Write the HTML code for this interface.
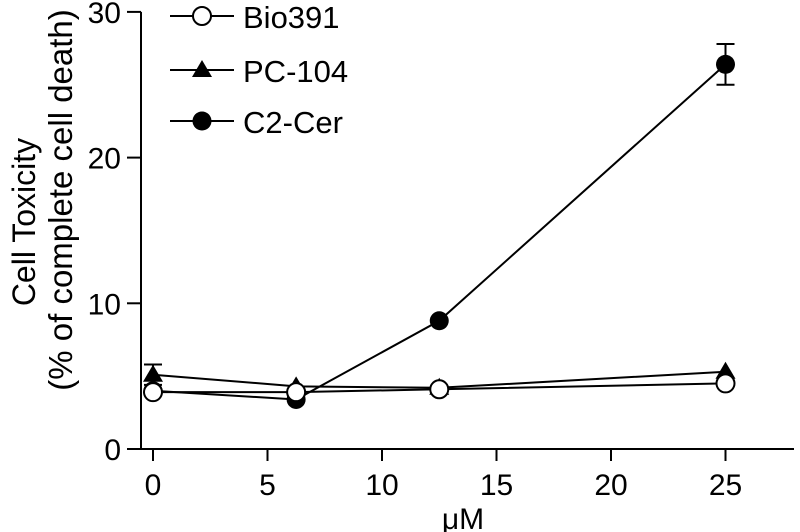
<!DOCTYPE html>
<html><head><meta charset="utf-8"><style>
html,body{margin:0;padding:0;background:#fff;}
svg{display:block;font-family:"Liberation Sans",Arial,sans-serif;}
</style></head><body>
<svg id="chart" width="800" height="532" viewBox="0 0 800 532"></svg>
<script>
const xValues = [0, 6.25, 12.5, 25];
const bio391 = [3.9, 3.9, 4.1, 4.5];
const pc104 = [5.1, 4.3, 4.2, 5.3];
const pc104Err = [0.7, 0, 0, 0];
const c2cer = [4.0, 3.4, 8.8, 26.4];
const c2cerErr = [0, 0, 0, 1.4];
const xTicks = [0, 5, 10, 15, 20, 25];
const yTicks = [0, 10, 20, 30];

const NS = "http://www.w3.org/2000/svg";
const svg = document.getElementById('chart');
const X = v => 153 + v * 22.9;
const Y = v => 449 - v * 14.57;
function mk(tag, attrs, parent) {
  const e = document.createElementNS(NS, tag);
  for (const k in attrs) e.setAttribute(k, attrs[k]);
  (parent || svg).appendChild(e);
  return e;
}
let a = mk('line', {x1:141, y1:Y(30), x2:141, y2:450, stroke:'#000', 'stroke-width':2});


a = mk('line', {x1:127, y1:449, x2:794, y2:449, stroke:'#000', 'stroke-width':2});


yTicks.forEach(t => {
  const l = mk('line', {x1:127, y1:Y(t), x2:141, y2:Y(t), stroke:'#000', 'stroke-width':2});
  
  
  const tx = mk('text', {x:121, y:Y(t) + 11, 'text-anchor':'end', 'font-size':30});
  tx.textContent = t;
  
  
});
xTicks.forEach(t => {
  const l = mk('line', {x1:X(t), y1:449, x2:X(t), y2:461, stroke:'#000', 'stroke-width':2});
  
  
  const tx = mk('text', {x:X(t), y:495, 'text-anchor':'middle', 'font-size':30});
  tx.textContent = t;
  
  
});
let t = mk('text', {x:463, y:529, 'text-anchor':'middle', 'font-size':30});
t.textContent = 'μM';


t = mk('text', {transform:'translate(35,222) rotate(-90)', 'text-anchor':'middle', 'font-size':32});
t.textContent = 'Cell Toxicity';


t = mk('text', {transform:'translate(72,200) rotate(-90)', 'text-anchor':'middle', 'font-size':33});
t.textContent = '(% of complete cell death)';



function marker(kind, cx, cy, g) {
  if (kind === 'open') mk('circle', {cx, cy, r:9, fill:'#fff', stroke:'#000', 'stroke-width':2}, g);
  else if (kind === 'filled') mk('circle', {cx, cy, r:9.5, fill:'#000'}, g);
  else mk('polygon', {points:`${cx},${cy-10} ${cx+10},${cy+7} ${cx-10},${cy+7}`, fill:'#000'}, g);
}
function series(name, vals, errs, kind) {
  const g = mk('g', {});
  
  
  if (errs) errs.forEach((e, i) => {
    if (!e) return;
    const x = X(xValues[i]);
    mk('line', {x1:x, y1:Y(vals[i]-e), x2:x, y2:Y(vals[i]+e), stroke:'#000', 'stroke-width':2}, g);
    mk('line', {x1:x-9, y1:Y(vals[i]+e), x2:x+9, y2:Y(vals[i]+e), stroke:'#000', 'stroke-width':2}, g);
    mk('line', {x1:x-9, y1:Y(vals[i]-e), x2:x+9, y2:Y(vals[i]-e), stroke:'#000', 'stroke-width':2}, g);
  });
  mk('polyline', {points: vals.map((v, i) => X(xValues[i]) + ',' + Y(v)).join(' '), fill:'none', stroke:'#000', 'stroke-width':2}, g);
  vals.forEach((v, i) => marker(kind, X(xValues[i]), Y(v), g));
}
series('c2-cer', c2cer, c2cerErr, 'filled');
series('pc-104', pc104, pc104Err, 'tri');
series('bio391', bio391, null, 'open');

const legend = [['Bio391','open',16],['PC-104','tri',70],['C2-Cer','filled',121]];
const lg = mk('g', {});


legend.forEach(([label, kind, y]) => {
  const g = mk('g', {}, lg);
  
  
  mk('line', {x1:170, y1:y, x2:234, y2:y, stroke:'#000', 'stroke-width':2}, g);
  marker(kind, 202, y, g);
  const tx = mk('text', {x:243, y:y + 12, 'font-size':31}, g);
  tx.textContent = label;
});
</script>
</body></html>
